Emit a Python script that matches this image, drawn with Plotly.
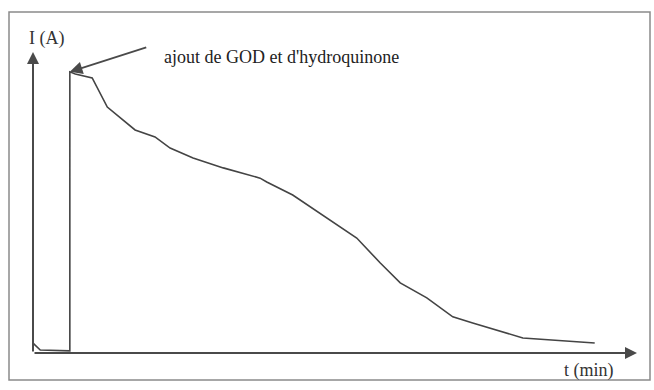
import plotly.graph_objects as go

# Data (arbitrary units, no scale shown)
t_min = [0.0, 1.2, 6.1, 6.1, 7.0, 9.8, 12.3, 16.9, 20.2, 22.7, 26.5, 31.5,
         37.6, 38.7, 43.0, 48.0, 53.6, 57.5, 60.8, 65.2, 69.5, 72.8, 81.1, 93.0]
current = [3.3, 1.0, 0.7, 93.4, 92.7, 91.4, 81.7, 74.1, 71.8, 68.1, 64.8, 61.5,
           58.1, 56.8, 52.5, 45.8, 38.2, 29.9, 23.3, 18.3, 12.0, 10.0, 5.0, 3.3]

x_label = "t (min)"
y_label = "I (A)"
note_text = "ajout de GOD et d'hydroquinone"

W, H = 654, 390
L, R, T, B = 33, 17, 52, 37

fig = go.Figure()
fig.add_trace(go.Scatter(x=t_min, y=current, mode="lines",
                         line=dict(color="#444444", width=1.6),
                         cliponaxis=False, hoverinfo="skip"))

serif = "Liberation Serif, Times New Roman, serif"

fig.update_layout(
    width=W, height=H,
    margin=dict(l=L, r=R, t=T, b=B, autoexpand=False),
    paper_bgcolor="white", plot_bgcolor="white",
    showlegend=False,
    xaxis=dict(range=[0, 100], visible=False, fixedrange=True),
    yaxis=dict(range=[0, 100], visible=False, fixedrange=True),
    shapes=[
        dict(type="rect", xref="paper", yref="paper",
             x0=(9 - L) / (W - L - R), x1=(650 - L) / (W - L - R),
             y0=-(380 - (H - B)) / (H - T - B), y1=((H - B) - 12) / (H - T - B),
             line=dict(color="#8a8a8a", width=1.5)),
    ],
    annotations=[
        # y axis arrow
        dict(x=0, y=100, ax=0, ay=0, xref="x", yref="y", axref="x", ayref="y",
             text="", showarrow=True, arrowhead=2, arrowsize=1.2,
             arrowwidth=2, arrowcolor="#4a4a4a"),
        # x axis arrow
        dict(x=100, y=0, ax=0, ay=0, xref="x", yref="y", axref="x", ayref="y",
             text="", showarrow=True, arrowhead=2, arrowsize=1.2,
             arrowwidth=2, arrowcolor="#4a4a4a"),
        dict(x=0, y=100, xref="x", yref="y", xshift=13, yshift=14,
             text=y_label, showarrow=False,
             font=dict(family=serif, size=18, color="#333")),
        dict(x=100, y=0, xref="x", yref="y", xshift=-48, yshift=-17,
             text=x_label, showarrow=False,
             font=dict(family=serif, size=18, color="#333")),
        # pointer arrow for the addition
        dict(x=t_min[3], y=current[3], ax=19.0, ay=101.7,
             xref="x", yref="y", axref="x", ayref="y",
             text="", showarrow=True, arrowhead=2, arrowsize=1.4,
             arrowwidth=1.8, arrowcolor="#4a4a4a"),
        dict(x=21.4, y=98.3, xref="x", yref="y", xanchor="left",
             text=note_text, showarrow=False,
             font=dict(family=serif, size=18, color="#222")),
    ],
)

fig.write_html("out.html",
               config={"displayModeBar": False, "staticPlot": True},
               post_script="document.body.style.margin='0';document.body.style.padding='0';")
